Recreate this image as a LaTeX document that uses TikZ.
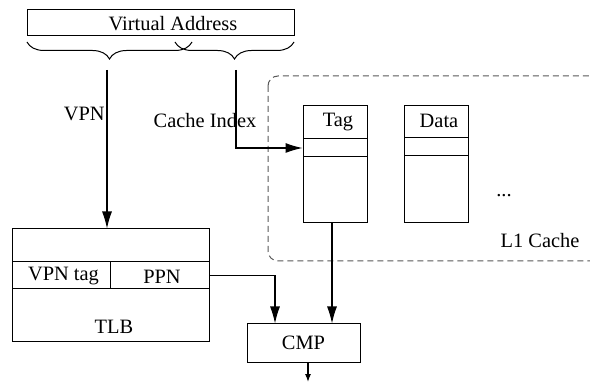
\documentclass[tikz,border=0pt]{standalone}
\usepackage{fontspec}
\setmainfont{Liberation Serif}
\usetikzlibrary{arrows.meta,decorations.pathreplacing,calc}
\begin{document}
\begin{tikzpicture}[x=0.5pt,y=-0.5pt,
  every node/.style={font=\fontsize{10.2}{12}\selectfont, inner sep=0pt},
  box/.style={draw, line width=0.5pt},
  arr/.style={draw, line width=0.55pt, -{Latex[length=8.5pt,width=5pt]}},
  arrsmall/.style={draw, line width=0.55pt, -{Latex[length=4pt,width=3pt]}},
  bracestyle/.style={draw, line width=0.5pt, decorate, decoration={brace, mirror, amplitude=8.5pt}},
  dashbox/.style={draw=black!65, line width=0.5pt, dash pattern=on 3pt off 2pt, rounded corners=5pt}]
\clip (0,0) rectangle (590,390);
\fill[white] (0,0) rectangle (590,390);

% Virtual address
\draw[box] (27,10) rectangle (294,36);
\node[minimum width=133.5pt, minimum height=13pt] (va) at (160.5,23) {};
\node (valabel) at (173,23.5) {Virtual Address};

% braces
\coordinate (b1s) at (27,42);
\coordinate (b1e) at (192,42);
\coordinate (b2s) at (175,42);
\coordinate (b2e) at (294,42);
\draw[bracestyle] (b1s) -- (b1e);
\draw[bracestyle] (b2s) -- (b2e);
\coordinate (vpnstart) at (107,70);
\coordinate (cistart) at (236,70);

% L1 cache dashed region
\draw[dashbox] (268,76) rectangle (610,261);
\node (dots) at (504,196) {...};
\node (l1) at (540,241) {L1 Cache};

% Tag array
\node[box, minimum width=32pt, minimum height=58.5pt] (tag) at (335,164.5) {};
\node[box, minimum width=32pt, minimum height=9pt] (tagrow) at (335,148) {};
\node (taglabel) at (338,122) {Tag};

% Data array
\node[box, minimum width=32pt, minimum height=58.5pt] (data) at (436,164.5) {};
\node[box, minimum width=32pt, minimum height=9pt] (datarow) at (436,147) {};
\node (datalabel) at (439,121) {Data};

% TLB
\node[box, minimum width=98.5pt, minimum height=56.5pt] (tlb) at (110.5,285.5) {};
\node[box, minimum width=49pt, minimum height=13.5pt] (vpntag) at (61,275.5) {};
\node[box, minimum width=49.5pt, minimum height=13.5pt] (ppn) at (159.5,275.5) {};
\node (vpntaglabel) at (63.5,276.5) {VPN tag};
\node (ppnlabel) at (162,276.5) {PPN};
\node (tlblabel) at (114,327) {TLB};

% CMP
\node[box, minimum width=56.5pt, minimum height=19pt] (cmp) at (303.5,343) {CMP};
\coordinate (cmpin1) at ($(cmp.north west)!0.25!(cmp.north east)$);
\coordinate (cmpin2) at ($(cmp.north west)!0.75!(cmp.north east)$);
\coordinate (out) at (308,382);

% connectors
\draw[arr] (vpnstart) -- (vpnstart |- tlb.north);
\node[anchor=east] (vpnlabel) at (105,114) {VPN};
\draw[arr] (cistart) |- (tagrow.west);
\node (cilabel) at (205,121) {Cache Index};
\draw[arr] (ppn.east) -| (cmpin1);
\draw[arr] (tag.south -| cmpin2) -- (cmpin2);
\draw[arrsmall] (cmp.south -| out) -- (out);
\end{tikzpicture}
\end{document}
